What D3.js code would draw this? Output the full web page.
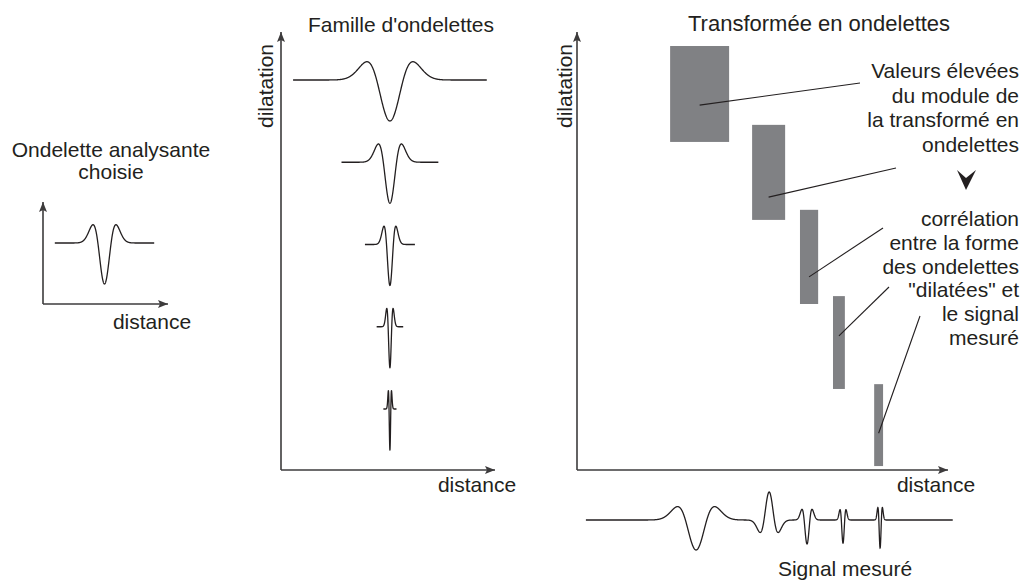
<!DOCTYPE html>
<html><head><meta charset="utf-8">
<script src="https://cdn.jsdelivr.net/npm/d3@7"></script>
<style>
body{margin:0;background:#fff}
svg{display:block}
text{font-family:"Liberation Sans",Arial,Helvetica,sans-serif;font-size:21px;fill:#231f20}
</style>
</head><body>
<svg id="chart" width="1023" height="588"></svg>
<script>
// ---------------- data ----------------
const leftTitle = ["Ondelette analysante", "choisie"];
const familyTitle = "Famille d'ondelettes";
const transformTitle = "Transformée en ondelettes";
const axisLabelX = "distance";
const axisLabelY = "dilatation";
const signalLabel = "Signal mesuré";

// chosen (mother) wavelet: centre and width in distance units
const motherCenter = 49.2;
const motherWidth = 5.3;

// family of wavelets: dilatation (width in distance units), all centred
const familyCenter = 50.9;
const familyWidths = [6.2, 3.1, 1.6, 0.85, 0.42];

// wavelet transform: high-modulus regions (distance range, dilatation range)
const rectDistStart = [25.1, 47.2, 60.1, 69.0, 80.1];
const rectDistEnd   = [41.0, 56.1, 65.0, 72.2, 82.5];
const rectDilLow    = [74.9, 57.1, 37.9, 18.5, 0.9];
const rectDilHigh   = [96.8, 78.8, 59.4, 39.7, 19.6];
const leaderDil     = [83.3, 62.3, 44.1, 30.6, 8.4];

// measured signal: components (position, width, signed amplitude)
const sigPos   = [32.1, 51.8, 62.0, 71.7, 81.7];
const sigWidth = [2.88, 1.40, 0.78, 0.46, 0.35];
const sigAmp   = [-0.75, 0.70, -0.60, -0.58, -0.70];
const sigRange = [2.4, 101.3];

const annot1 = ["Valeurs élevées", "du module de", "la transformé en", "ondelettes"];
const annot2 = ["corrélation", "entre la forme", "des ondelettes", "\"dilatées\" et", "le signal", "mesuré"];

// ---------------- drawing ----------------
const svg = d3.select("#chart");
const ink = "#231f20", axisCol = "#3d3b3c", rectCol = "#808184";

const defs = svg.append("defs");
defs.append("marker").attr("id", "arr")
  .attr("viewBox", "0 0 10 8").attr("refX", 10).attr("refY", 4)
  .attr("markerWidth", 10).attr("markerHeight", 8)
  .attr("markerUnits", "userSpaceOnUse").attr("orient", "auto")
  .append("path").attr("d", "M0,0 L10,4 L0,8 L2,4 Z").attr("fill", axisCol);

function axes(x0, y0, xEnd, yEnd) {
  svg.append("line").attr("x1", x0).attr("y1", y0).attr("x2", x0).attr("y2", yEnd)
    .attr("stroke", axisCol).attr("stroke-width", 1.6).attr("marker-end", "url(#arr)");
  svg.append("line").attr("x1", x0).attr("y1", y0).attr("x2", xEnd).attr("y2", y0)
    .attr("stroke", axisCol).attr("stroke-width", 1.6).attr("marker-end", "url(#arr)");
}

// Mexican hat
const mh = t => (1 - t * t) * Math.exp(-t * t / 2);

function waveletPath(g, xScale, center, width, baseY, ampScale, span) {
  const pts = d3.range(-span, span + 1e-9, span / 400).map(t => [t, -mh(t)]);
  const line = d3.line()
    .x(d => xScale(center + d[0] * width))
    .y(d => baseY + ampScale(d[1]));
  g.append("path").attr("d", line(pts)).attr("fill", "none")
    .attr("stroke", ink).attr("stroke-width", 1.3);
}

// ---- left: chosen wavelet ----
const xS = d3.scaleLinear([0, 100], [43, 168]);
const yS = d3.scaleLinear([0, 100], [304, 202]);
const ampS = d3.scaleLinear([-1, 1], [41, -41]);
axes(xS(0), yS(0), xS(100), yS(100));
svg.selectAll(".lt").data(leftTitle).join("text")
  .attr("x", 111).attr("y", (d, i) => 157 + i * 21.5).attr("text-anchor", "middle").text(d => d);
waveletPath(svg, xS, motherCenter, motherWidth, yS(59.8), ampS, 7.5);
svg.append("text").attr("x", 152).attr("y", 329).attr("text-anchor", "middle").text(axisLabelX);

// ---- middle: wavelet family ----
const xF = d3.scaleLinear([0, 100], [281, 495]);
const yFAxis = d3.scaleLinear([0, 100], [470, 32]);
const yF = d3.scalePoint(familyWidths, [80, 409]);
const ampF = d3.scaleLinear([-1, 1], [41, -41]);
axes(xF(0), yFAxis(0), xF(100), yFAxis(100));
svg.append("text").attr("x", 401).attr("y", 32).attr("text-anchor", "middle").text(familyTitle);
svg.append("text").attr("transform", "translate(273,86) rotate(-90)").attr("text-anchor", "middle").text(axisLabelY);
svg.append("text").attr("x", 477).attr("y", 492).attr("text-anchor", "middle").text(axisLabelX);
familyWidths.forEach(w => waveletPath(svg, xF, familyCenter, w, yF(w), ampF, 7.3));

// ---- right: wavelet transform ----
const xT = d3.scaleLinear([0, 100], [577, 948]);
const yT = d3.scaleLinear([0, 100], [470, 32]);
axes(xT(0), yT(0), xT(100), yT(100));
svg.append("text").attr("x", 688).attr("y", 31).style("font-size", "22px").text(transformTitle);
svg.append("text").attr("transform", "translate(572,86) rotate(-90)").attr("text-anchor", "middle").text(axisLabelY);
svg.append("text").attr("x", 936).attr("y", 492).attr("text-anchor", "middle").text(axisLabelX);

const rects = rectDistStart.map((s, i) => ({s, e: rectDistEnd[i], lo: rectDilLow[i], hi: rectDilHigh[i], a: leaderDil[i]}));
svg.selectAll(".r").data(rects).join("rect")
  .attr("x", d => xT(d.s)).attr("y", d => yT(d.hi))
  .attr("width", d => xT(d.e) - xT(d.s)).attr("height", d => yT(d.lo) - yT(d.hi))
  .attr("fill", rectCol);

// annotations
svg.selectAll(".a1").data(annot1).join("text")
  .attr("x", 1019).attr("y", (d, i) => 78 + i * 24.7).attr("text-anchor", "end").text(d => d);
svg.selectAll(".a2").data(annot2).join("text")
  .attr("x", 1019).attr("y", (d, i) => 226 + i * 23.8).attr("text-anchor", "end").text(d => d);
svg.append("path").attr("d", "M957,170 L966,178 L976,170 L966,190 Z").attr("fill", ink);

const leaderEnds = [[860, 83], [896, 168], [883, 228], [889, 287], [920, 316]];
svg.selectAll(".ld").data(rects).join("line")
  .attr("x1", d => xT((d.s + d.e) / 2)).attr("y1", d => yT(d.a))
  .attr("x2", (d, i) => leaderEnds[i][0]).attr("y2", (d, i) => leaderEnds[i][1])
  .attr("stroke", ink).attr("stroke-width", 1.1);

// ---- measured signal ----
const ySig = d3.scaleLinear([-1, 1], [560, 480]);
const sig = x => d3.sum(sigPos, (p, i) => sigAmp[i] * mh((x - p) / sigWidth[i]));
const sigPts = d3.range(sigRange[0], sigRange[1], 0.03).map(x => [x, sig(x)]);
svg.append("path").attr("d", d3.line().x(d => xT(d[0])).y(d => ySig(d[1]))(sigPts))
  .attr("fill", "none").attr("stroke", ink).attr("stroke-width", 1.3);
svg.append("text").attr("x", 845).attr("y", 576).attr("text-anchor", "middle").text(signalLabel);
</script>
</body></html>
